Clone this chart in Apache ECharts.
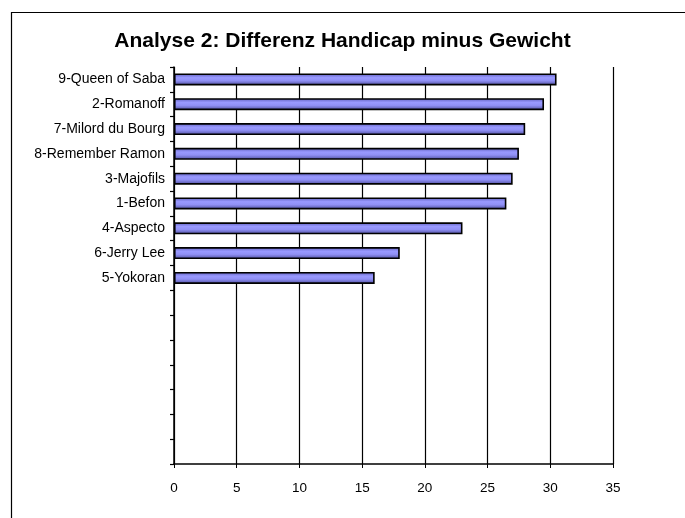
<!DOCTYPE html>
<html>
<head>
<meta charset="utf-8">
<script src="https://cdn.jsdelivr.net/npm/echarts@6/dist/echarts.min.js"></script>
<style>
  html, body { margin: 0; padding: 0; background: #fff; }
  #chart { width: 685px; height: 518px; }
</style>
</head>
<body>
<div id="chart"></div>
<script>
// Horses, listed from top to bottom; empty rows keep the remaining slots of the axis
const horses = [
  '9-Queen of Saba', '2-Romanoff', '7-Milord du Bourg', '8-Remember Ramon',
  '3-Majofils', '1-Befon', '4-Aspecto', '6-Jerry Lee', '5-Yokoran',
  '', '', '', '', '', '', ''
];
// Difference handicap minus weight for each horse
const difference = [30.5, 29.5, 28, 27.5, 27, 26.5, 23, 18, 16];
const xMin = 0, xMax = 35, xStep = 5;

const chart = echarts.init(document.getElementById('chart'), null, { renderer: 'canvas' });
const font = '"Liberation Sans", Arial, sans-serif';

chart.setOption({
  animation: false,
  backgroundColor: '#ffffff',
  title: {
    text: 'Analyse 2: Differenz Handicap minus Gewicht',
    left: 'center',
    top: 26,
    textStyle: { fontFamily: font, fontSize: 21, fontWeight: 'bold', color: '#000' }
  },
  graphic: [{
    type: 'rect',
    shape: { x: 11.5, y: 12.5, width: 800, height: 600 },
    style: { fill: 'none', stroke: '#000', lineWidth: 1.2 },
    silent: true
  }],
  grid: { left: 174, right: 72, top: 67, bottom: 54, containLabel: false },
  xAxis: {
    type: 'value',
    min: xMin, max: xMax, interval: xStep,
    axisLine: { show: true, lineStyle: { color: '#000', width: 1.5 } },
    axisTick: { show: true, length: 4, lineStyle: { color: '#000', width: 1 } },
    axisLabel: { color: '#000', fontFamily: font, fontSize: 13.5, margin: 17 },
    splitLine: { show: true, lineStyle: { color: '#000', width: 1.2 } }
  },
  yAxis: {
    type: 'category',
    inverse: true,
    data: horses,
    axisLine: { show: true, lineStyle: { color: '#000', width: 1.5 } },
    axisTick: { show: true, length: 4, lineStyle: { color: '#000', width: 1.2 } },
    axisLabel: { color: '#000', fontFamily: font, fontSize: 14, margin: 9, interval: 0 },
    splitLine: { show: false }
  },
  series: [{
    type: 'bar',
    data: difference,
    barWidth: 12,
    itemStyle: {
      color: new echarts.graphic.LinearGradient(0, 0, 0, 1, [
        { offset: 0, color: '#5c5cb8' },
        { offset: 0.35, color: '#9999ff' },
        { offset: 0.6, color: '#9090f5' },
        { offset: 1, color: '#4d4d9a' }
      ]),
      borderColor: '#000',
      borderWidth: 1.6
    }
  }]
});
</script>
</body>
</html>
